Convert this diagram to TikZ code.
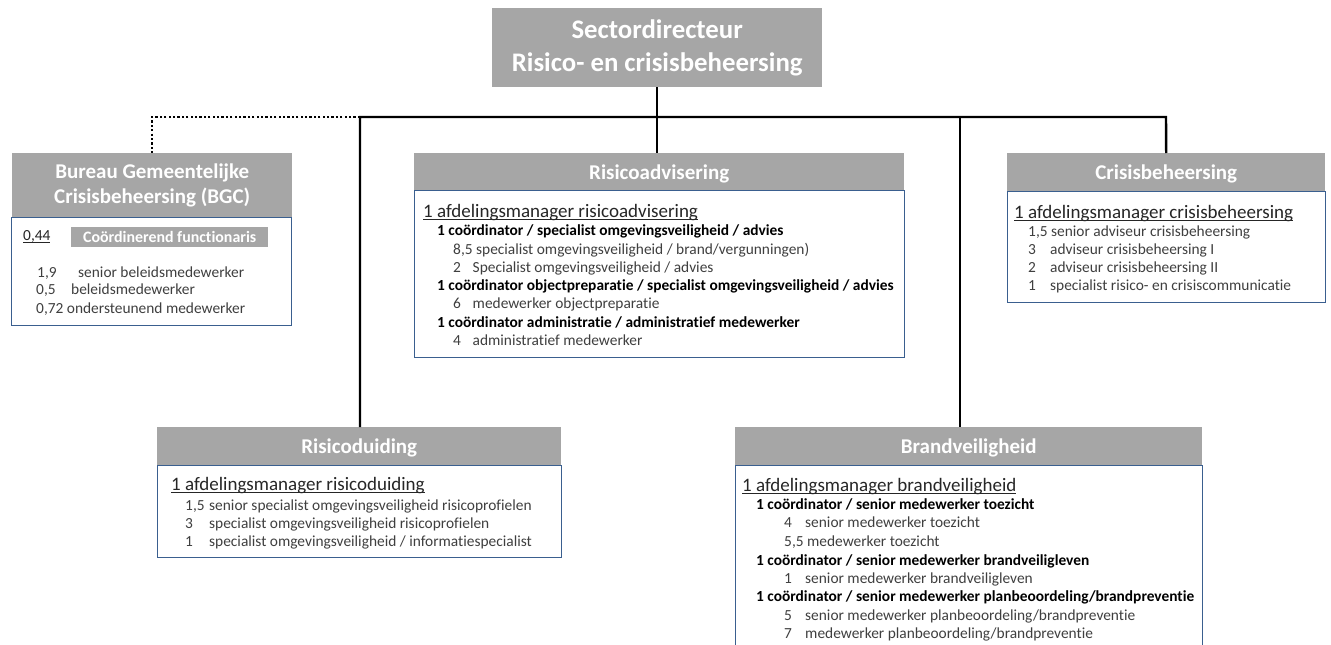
\documentclass[tikz,border=0pt]{standalone}
\usepackage{fontspec}
\setmainfont{Carlito}[Ligatures={NoCommon,NoContextual}]
\definecolor{hdrgray}{HTML}{A6A6A6}
\definecolor{boxblue}{HTML}{3A5F8F}
\definecolor{txt}{HTML}{3F3F3F}
\definecolor{leadtxt}{HTML}{262626}
\tikzset{
  hdr/.style={fill=hdrgray, text=white, font=\fontsize{21}{25}\selectfont\bfseries,
    inner sep=0, anchor=north west, align=center},
  body/.style={draw=boxblue, line width=1.3pt, fill=white, inner sep=0, anchor=north west},
  conn/.style={line width=2.4pt, black, line join=miter},
  dotline/.style={line width=2.4pt, black, dash pattern=on 2.2pt off 2.2pt},
  lead/.style={anchor=base west, inner sep=0, font=\fontsize{19}{22}\selectfont, text=leadtxt},
  boldline/.style={anchor=base west, inner sep=0, font=\fontsize{15.4}{18}\selectfont\bfseries, text=black},
  item/.style={anchor=base west, inner sep=0, font=\fontsize{15.4}{18}\selectfont, text=txt},
}
\newcommand\numcol[2]{\makebox[#1pt][l]{#2}}
% header title set slightly low in its bar
\newcommand\hdrtxt[1]{\raisebox{-2pt}[\height][\depth]{#1}}
% underline with a heavier rule than \underline
\newcommand\uln[1]{\setbox0\hbox{#1}\rlap{\rule[-2.8pt]{\wd0}{1.1pt}}\box0}
\begin{document}
\begin{tikzpicture}[x=1pt,y=-1pt]
\useasboundingbox (0,0) rectangle (1331,645);

% director
\node[hdr, font=\fontsize{26.8}{33}\selectfont\bfseries, minimum width=330, minimum height=79]
  (dir) at (492,8) {Sectordirecteur\\Risico- en crisisbeheersing};

% Bureau Gemeentelijke Crisisbeheersing
\node[body, minimum width=280, minimum height=108] (bgcB) at (11,217) {};
\node[hdr, minimum width=280, minimum height=64] (bgcH) at (12,153) {Bureau Gemeentelijke\\Crisisbeheersing (BGC)};
\node[item, text=leadtxt] (bgc0) at (23,240) {\uln{0,44}};
\node[fill=hdrgray, text=white, font=\fontsize{15.9}{17}\selectfont\bfseries, inner sep=0,
  minimum width=197, minimum height=20, anchor=north west] (bgcF) at (71,227) {Coördinerend functionaris};
\node[item] (bgc1n) at (37,277) {1,9};
\node[item] (bgc1t) at (78,277) {senior beleidsmedewerker};
\node[item] (bgc2n) at (36,294) {0,5};
\node[item] (bgc2t) at (71,294) {beleidsmedewerker};
\node[item] (bgc3) at (36,313) {0,72 ondersteunend medewerker};

% Risicoadvisering
\node[body, minimum width=490, minimum height=167] (radvB) at (414,190) {};
\node[hdr, minimum width=490, minimum height=37] (radvH) at (414,153) {\hdrtxt{Risicoadvisering}};
\node[lead] (ra0) at (423,217) {\uln{1 afdelingsmanager risicoadvisering}};
\node[boldline] (ra1) at (437,235) {1 coördinator / specialist omgevingsveiligheid / advies};
\node[item] (ra2) at (453,254) {8,5 specialist omgevingsveiligheid / brand/vergunningen)};
\node[item] (ra3) at (453,272) {\numcol{19.5}{2}Specialist omgevingsveiligheid / advies};
\node[boldline] (ra4) at (437,290) {1 coördinator objectpreparatie / specialist omgevingsveiligheid / advies};
\node[item] (ra5) at (453,308) {\numcol{19.5}{6}medewerker objectpreparatie};
\node[boldline] (ra6) at (437,327) {1 coördinator administratie / administratief medewerker};
\node[item] (ra7) at (453,345) {\numcol{19.5}{4}administratief medewerker};

% Crisisbeheersing
\node[body, minimum width=318, minimum height=111] (crisB) at (1007,191) {};
\node[hdr, minimum width=318, minimum height=38] (crisH) at (1007,153) {\hdrtxt{Crisisbeheersing}};
\node[lead] (cb0) at (1014,218) {\uln{1 afdelingsmanager crisisbeheersing}};
\node[item] (cb1) at (1028,236) {1,5 senior adviseur crisisbeheersing};
\node[item] (cb2) at (1028,254) {\numcol{22}{3}adviseur crisisbeheersing I};
\node[item] (cb3) at (1028,272) {\numcol{22}{2}adviseur crisisbeheersing II};
\node[item] (cb4) at (1028,290.5) {\numcol{22}{1}specialist risico- en crisiscommunicatie};

% Risicoduiding
\node[body, minimum width=404, minimum height=92] (rduiB) at (157,465) {};
\node[hdr, minimum width=404, minimum height=38] (rduiH) at (157,427) {\hdrtxt{Risicoduiding}};
\node[lead] (rd0) at (171,490) {\uln{1 afdelingsmanager risicoduiding}};
\node[item] (rd1) at (185,510) {\numcol{24}{1,5}senior specialist omgevingsveiligheid risicoprofielen};
\node[item] (rd2) at (185,528) {\numcol{24}{3}specialist omgevingsveiligheid risicoprofielen};
\node[item] (rd3) at (185,546) {\numcol{24}{1}specialist omgevingsveiligheid / informatiespecialist};

% Brandveiligheid
\node[body, minimum width=467, minimum height=220] (bvB) at (735,465) {};
\node[hdr, minimum width=467, minimum height=38] (bvH) at (735,427) {\hdrtxt{Brandveiligheid}};
\node[lead] (bv0) at (742,491) {\uln{1 afdelingsmanager brandveiligheid}};
\node[boldline] (bv1) at (756,509) {1 coördinator / senior medewerker toezicht};
\node[item] (bv2) at (784,527) {\numcol{21}{4}senior medewerker toezicht};
\node[item] (bv3) at (784,546) {5,5 medewerker toezicht};
\node[boldline] (bv4) at (756,565) {1 coördinator / senior medewerker brandveiligleven};
\node[item] (bv5) at (784,583) {\numcol{21}{1}senior medewerker brandveiligleven};
\node[boldline] (bv6) at (756,601) {1 coördinator / senior medewerker planbeoordeling/brandpreventie};
\node[item] (bv7) at (784,620) {\numcol{21}{5}senior medewerker planbeoordeling/brandpreventie};
\node[item] (bv8) at (784,638) {\numcol{21}{7}medewerker planbeoordeling/brandpreventie};

% connectors
\coordinate (busL) at (360,117);
\coordinate (busR) at (1166,117);
\coordinate (busB) at (960,117);
\draw[conn] (dir.south) -- (dir.south |- radvH.north);
\draw[conn] (busL |- rduiH.north) -- (busL) -- (busR) -- (crisH.north);
\draw[conn] (busB) -- (busB |- bvH.north);
\draw[dotline] (busL) -- (busL -| bgcH.north) -- (bgcH.north);
\end{tikzpicture}
\end{document}
